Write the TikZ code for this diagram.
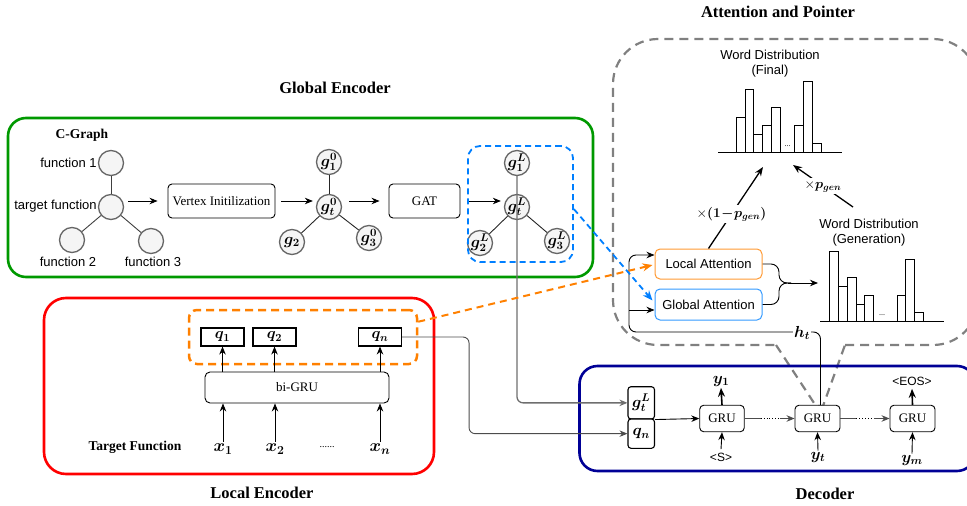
\RequirePackage{fix-cm}
\documentclass[tikz,border=0pt]{standalone}
\usepackage{fontspec}
\setmainfont{Liberation Serif}
\setsansfont{Liberation Sans}
\usepackage{bm}
\usetikzlibrary{arrows.meta,calc}
\definecolor{cgreen}{RGB}{0,153,0}
\definecolor{cred}{RGB}{255,0,0}
\definecolor{cnavy}{RGB}{0,0,150}
\definecolor{corange}{RGB}{255,128,0}
\definecolor{cblue}{RGB}{0,127,255}
\definecolor{lattc}{RGB}{255,153,51}
\definecolor{gattc}{RGB}{51,153,255}
\definecolor{cgray}{RGB}{128,128,128}
\definecolor{cline}{RGB}{110,110,110}
\definecolor{cfill}{RGB}{245,245,245}
\definecolor{cedge}{RGB}{102,102,102}
\tikzset{
  ttl/.style={font=\bfseries\fontsize{16.5}{18}\selectfont},
  sans/.style={font=\sffamily\fontsize{13}{15.5}\selectfont},
  vtx/.style={circle,draw=cedge,fill=cfill,line width=1.3pt,minimum size=25pt,inner sep=-1pt,font=\fontsize{16}{16}\selectfont},
  rbox/.style={draw,rounded corners=4pt,line width=0.9pt,fill=white,font=\fontsize{13}{15}\selectfont,inner sep=0pt},
  qbox/.style={draw,line width=1.1pt,fill=white,inner sep=0pt,minimum width=43pt,minimum height=18pt,font=\fontsize{15.5}{15}\selectfont},
  arr/.style={-{Stealth[length=8pt,width=6.5pt]},line width=0.9pt},
  tarr/.style={-{Stealth[length=9pt,width=7pt]},line width=1.6pt},
  gedge/.style={line width=0.9pt,draw=black!85},
  mlab/.style={font=\fontsize{16}{16}\selectfont,inner sep=1pt},
  xlab/.style={font=\fontsize{17.5}{17.5}\selectfont,inner sep=1pt},
  slab/.style={font=\fontsize{13.5}{14}\selectfont,inner sep=2pt,fill=white},
}
\begin{document}
\begin{tikzpicture}[x=1pt,y=-1pt]
\useasboundingbox (0,0) rectangle (967,506);
\clip (0,0) rectangle (967,506);

% ---------- Attention and Pointer callout (background) ----------
\draw[cgray,line width=2.2pt,dash pattern=on 9pt off 6pt,rounded corners=45pt]
  (845,345) -- (978,345) -- (978,39) -- (613,39) -- (613,345) -- (776,345);
\draw[cgray,line width=2.2pt,dash pattern=on 9pt off 6pt]
  (776,345) -- (816,406) -- (823,406) -- (845,345);
\node[ttl] (tatt) at (778,12) {Attention and Pointer};

% ---------- Global encoder ----------
\draw[cgreen,line width=2.6pt,rounded corners=18pt] (8,118) rectangle (593,277);
\node[ttl] (tglob) at (335,88) {Global Encoder};
\node[font=\bfseries\fontsize{13.5}{15}\selectfont] (cg) at (82,135) {C-Graph};

\node[vtx] (f1) at (111,163) {};
\node[vtx] (ft) at (111,207) {};
\node[vtx] (f2) at (72,240) {};
\node[vtx] (f3) at (151,241) {};
\draw[gedge,draw=black!75] (ft) -- (f1);
\draw[gedge,draw=black!75] (ft) -- (f2);
\draw[gedge,draw=black!75] (ft) -- (f3);
\node[sans,anchor=east,inner sep=1pt] (lf1) at (f1.west) {function 1};
\node[sans,anchor=east,inner sep=1pt] (lft) at ($(ft.west)+(0,-1)$) {target function};
\node[sans] (lf2) at (68,262) {function 2};
\node[sans] (lf3) at (153,262) {function 3};

\node[rbox,minimum width=107pt,minimum height=34pt] (vinit) at (221.5,201) {Vertex Initilization};
\node[rbox,minimum width=71pt,minimum height=34pt] (gat) at (424.5,201) {GAT};

\node[vtx] (g01) at (329,162) {$\bm{g_1^0}$};
\node[vtx] (g0t) at (329,207) {$\bm{g_t^0}$};
\node[vtx] (g02) at (292,242) {$\bm{g_2}$};
\node[vtx] (g03) at (369,238) {$\bm{g_3^0}$};
\draw[gedge] (g0t) -- (g01);
\draw[gedge] (g0t) -- (g02);
\draw[gedge] (g0t) -- (g03);

\node[vtx] (gL1) at (517,163) {$\bm{g_1^L}$};
\node[vtx] (gLt) at (517,207) {$\bm{g_t^L}$};
\node[vtx] (gL2) at (480,243) {$\bm{g_2^L}$};
\node[vtx] (gL3) at (557,241) {$\bm{g_3^L}$};
\draw[gedge] (gLt) -- (gL2);
\draw[gedge] (gLt) -- (gL3);

\draw[arr] ($(ft.east |- vinit.west)+(4,0)$) -- ($(vinit.west)+(-10,0)$);
\draw[arr] ($(vinit.east)+(6,0)$) -- ($(g0t.west |- vinit.east)+(-3,0)$);
\draw[arr] ($(g0t.east |- gat.west)+(7,0)$) -- ($(gat.west)+(-9,0)$);
\draw[arr] ($(gat.east)+(9,0)$) -- ($(gLt.west |- gat.east)+(-3,0)$);

\node[draw=cblue,line width=1.8pt,dash pattern=on 6pt off 4pt,rounded corners=12pt,
      minimum width=105pt,minimum height=116pt,inner sep=0pt] (lbox) at (520.5,204) {};

% ---------- Local encoder ----------
\draw[cred,line width=2.6pt,rounded corners=22pt] (44,298) rectangle (434,474);
\node[ttl] (tloc) at (262,493) {Local Encoder};
\node[draw=corange,line width=2.5pt,dash pattern=on 8pt off 5pt,rounded corners=8pt,
      minimum width=228pt,minimum height=54pt,inner sep=0pt] (obox) at (303,337) {};
\node[qbox] (q1) at (222.5,337) {$\bm{q_1}$};
\node[qbox] (q2) at (274.5,337) {$\bm{q_2}$};
\node[qbox] (qn) at (380,337) {$\bm{q_n}$};
\node[rbox,minimum width=184pt,minimum height=31pt,rounded corners=5pt] (bigru) at (297,387.5) {bi-GRU};
\node[xlab] (x1) at (223,449) {$\bm{x_1}$};
\node[xlab] (x2) at (275,449) {$\bm{x_2}$};
\node[font=\fontsize{10}{10}\selectfont] (xdots) at (327,447) {......};
\node[xlab] (xn) at (380,449) {$\bm{x_n}$};
\node[font=\bfseries\fontsize{13.5}{15}\selectfont] (tf) at (135,447) {Target Function};
\foreach \a/\b in {x1/q1,x2/q2,xn/qn}{
  \draw[arr] ($(\a.north)+(0,-1)$) -- (\a.north |- bigru.south);
  \draw[arr] (\b.south |- bigru.north) -- (\b.south);
}

% ---------- Decoder ----------
\draw[cnavy,line width=2.6pt,rounded corners=18pt] (579.5,366) rectangle (975,471);
\node[ttl] (tdec) at (825,494) {Decoder};
\node[rbox,rounded corners=3pt,minimum width=26.5pt,minimum height=32.3pt,line width=1.1pt,font=\fontsize{16}{16}\selectfont] (gdec) at (641.25,402.85) {$\bm{g_t^L}$};
\node[rbox,rounded corners=3pt,minimum width=26.5pt,minimum height=29.3pt,line width=1.1pt,font=\fontsize{16}{16}\selectfont] (qdec) at (641.25,433.65) {$\bm{q_n}$};
\node[rbox,minimum width=44.5pt,minimum height=26.5pt] (gru1) at (722,418.5) {GRU};
\node[rbox,minimum width=45pt,minimum height=26.5pt] (gru2) at (817.5,418.5) {GRU};
\node[rbox,minimum width=45pt,minimum height=26.5pt] (gru3) at (912.5,418.5) {GRU};
\node[mlab] (y1) at (721,381.5) {$\bm{y_1}$};
\node[sans,font=\sffamily\fontsize{12}{14}\selectfont] (ss) at (721,457) {<S>};
\node[mlab] (yt) at (818,457) {$\bm{y_t}$};
\node[sans,font=\sffamily\fontsize{12}{14}\selectfont] (eos) at (912,381) {<EOS>};
\node[mlab] (ym) at (912,460) {$\bm{y_m}$};
\draw[tarr] (gru1.north) -- (y1.south);
\draw[tarr] (gru3.north) -- (eos.south);
\draw[arr] (ss.north) -- (gru1.south);
\draw[arr] (yt.north) -- (gru2.south);
\draw[arr] (ym.north) -- (gru3.south);
\draw[arr] (gdec.south east) -- (gru1.west);
\draw[line width=0.9pt,draw=black!70] (gru1.east) -- ++(16,0) coordinate (a1);
\draw[line width=0.9pt,dotted] (a1) -- ++(19,0) coordinate (a2);
\draw[arr,draw=black!70] (a2) -- (gru2.west);
\draw[line width=0.9pt,draw=black!70] (gru2.east) -- ++(16,0) coordinate (b1);
\draw[line width=0.9pt,dotted] (b1) -- ++(18,0) coordinate (b2);
\draw[arr,draw=black!70] (b2) -- (gru3.west);

% long connectors
\draw[arr,draw=cline,line width=1.3pt,rounded corners=6pt] (gL1.south) |- (gdec.west);
\draw[arr,draw=black!70,rounded corners=6pt] (qn.east) -- ++(67,0) |- (qdec.west);

% ---------- Attention ----------
\node[draw=lattc,line width=1pt,rounded corners=5pt,minimum width=107pt,minimum height=30pt,sans] (latt) at (708.5,264) {Local Attention};
\node[draw=gattc,line width=1pt,rounded corners=5pt,minimum width=107pt,minimum height=31pt,sans] (gatt) at (708.5,304.5) {Global Attention};

\coordinate (hc) at (629,332);
\coordinate (lin) at ($(latt.west)+(0,-9)$);
\coordinate (gin) at ($(gatt.west)+(0,5.5)$);
\draw[arr,rounded corners=7pt] ($(gru2.north)+(3,0)$) |- (hc) |- (lin);
\draw[arr] (hc |- gin) -- (gin);
\node[mlab,fill=white,inner sep=1.5pt] (ht) at (802,333) {$\bm{h_t}$};

% dashed cross connectors
\draw[corange,line width=2pt,dash pattern=on 7pt off 5pt,-{Stealth[length=10pt,width=8pt]}]
  ($(obox.north east)+(0,13)$) -- ($(latt.west)+(-2,1)$);
\draw[cblue,line width=1.8pt,dash pattern=on 6pt off 4pt,-{Stealth[length=10pt,width=8pt]}]
  ($(lbox.north east)+(0,64)$) -- ($(gatt.west)+(-2,-4)$);

% merge brace
\draw[line width=0.9pt,rounded corners=8pt] (latt.east) -- (779,264) -- (779,283) -- (791,283);
\draw[line width=0.9pt,rounded corners=8pt] (gatt.east) -- (779,304.5) -- (779,283) -- (791,283);
\coordinate (gbase) at (820,321);
\draw[arr] (788,283) -- (818,283);

% histograms
\draw[line width=0.8pt] (718,152) -- (842,152);
\foreach \l/\r/\t in {736/745/117,745/753/89,753/762/134,762/771/125,771/780/107,794/803/125,803/812/81,812/821/143}
  \draw[line width=0.8pt,fill=white] (\l,152) rectangle (\r,\t);
\node[font=\fontsize{8}{8}\selectfont] (fdots) at (787.5,146) {...};
\node[sans,align=center] (wdf) at (770,63.5) {Word Distribution\\(Final)};

\draw[line width=0.8pt] (gbase) -- (944,321);
\foreach \l/\r/\t in {829/838/251,838/847/286,847/856/277,856/864/304,864/873/295,897/905/295,905/914/259,914/923/312}
  \draw[line width=0.8pt,fill=white] (\l,321) rectangle (\r,\t);
\node[font=\fontsize{8}{8}\selectfont] (gdots) at (882,315) {...};
\node[sans,align=center] (wdg) at (869,232.5) {Word Distribution\\(Generation)};

\coordinate (fin1) at (763,167);
\coordinate (fin2) at (793,165);
\coordinate (gentop) at (853,207);
\draw[tarr,line width=1.3pt] (latt.north) -- node[pos=0.42,slab] (lab1) {$\times\bm{(1\!-\!p_{gen})}$} (fin1);
\draw[tarr,line width=1.3pt] (gentop) -- node[pos=0.5,slab] (lab2) {$\times\bm{p_{gen}}$} (fin2);
\end{tikzpicture}
\end{document}
